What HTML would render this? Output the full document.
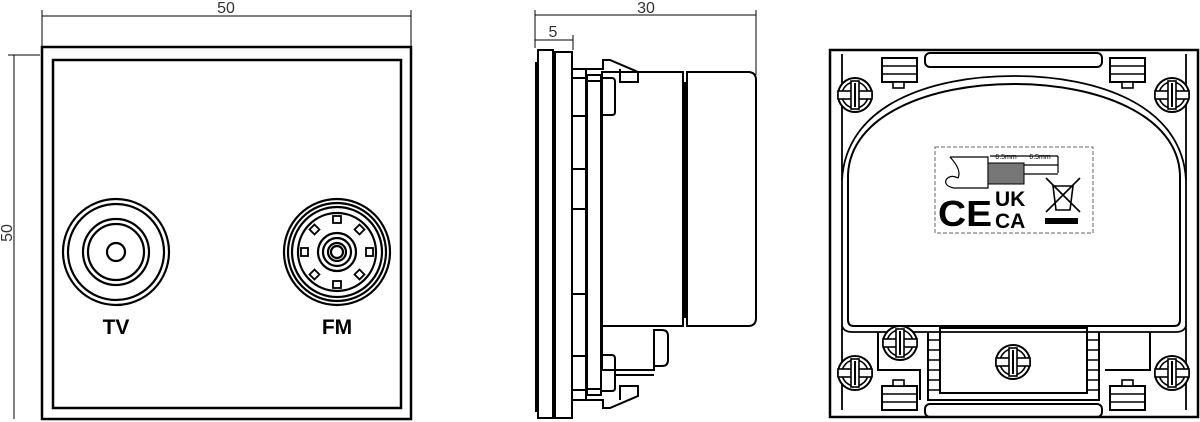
<!DOCTYPE html>
<html><head><meta charset="utf-8"><style>
html,body{margin:0;padding:0;background:#fff;width:1200px;height:422px;overflow:hidden}
svg{display:block}
text{font-family:"Liberation Sans",sans-serif;stroke:none}
</style></head><body>
<svg width="1200" height="422" viewBox="0 0 1200 422" xmlns="http://www.w3.org/2000/svg">
<defs>
<g id="scr">
<circle r="17" fill="#fff" stroke="#000" stroke-width="2"/>
<circle r="13" fill="none" stroke="#000" stroke-width="1.6"/>
<rect x="-17" y="-4" width="34" height="8" fill="#fff" stroke="#000" stroke-width="1.6"/>
<rect x="-4" y="-14" width="8" height="28" fill="#fff" stroke="#000" stroke-width="1.6"/>
<line x1="0" y1="-12" x2="0" y2="12" stroke="#000" stroke-width="2"/>
</g>
<g id="tab">
<rect x="0" y="0" width="35" height="24" fill="#fff" stroke="#000" stroke-width="2"/>
<line x1="0" y1="8" x2="35" y2="8" stroke="#000" stroke-width="1.6"/>
<line x1="0" y1="16" x2="35" y2="16" stroke="#000" stroke-width="1.6"/>
</g>
</defs>
<g fill="none" stroke="#000">
<!-- front view -->
<line x1="42" y1="16" x2="411" y2="16" stroke-width="1"/>
<line x1="42" y1="10" x2="42" y2="46" stroke-width="1"/>
<line x1="411" y1="10" x2="411" y2="46" stroke-width="1"/>
<line x1="14" y1="55" x2="14" y2="419" stroke-width="1"/>
<line x1="8" y1="55" x2="40" y2="55" stroke-width="1"/>
<rect x="42" y="47" width="369" height="372" stroke-width="2.5"/>
<rect x="53" y="60" width="348" height="348" stroke-width="2.5"/>
<g stroke-width="2.2">
<circle cx="116" cy="252" r="53"/><circle cx="116" cy="252" r="48"/>
<circle cx="116" cy="252" r="33"/><circle cx="116" cy="252" r="28"/>
<circle cx="116" cy="252" r="9"/>
<circle cx="337" cy="252" r="53"/><circle cx="337" cy="252" r="49"/>
<circle cx="337" cy="252" r="45"/><circle cx="337" cy="252" r="39"/>
<circle cx="337" cy="252" r="19"/><circle cx="337" cy="252" r="14"/>
<circle cx="337" cy="252" r="9"/><circle cx="337" cy="252" r="6"/>
</g>
<g stroke-width="1.8" fill="#fff">
<rect x="333" y="216" width="8" height="7"/><rect x="333" y="281" width="8" height="7"/>
<rect x="301" y="248" width="7" height="8"/><rect x="366" y="248" width="7" height="8"/>
<rect x="311" y="226" width="7" height="7" transform="rotate(45 314.5 229.5)"/>
<rect x="356" y="226" width="7" height="7" transform="rotate(45 359.5 229.5)"/>
<rect x="311" y="271" width="7" height="7" transform="rotate(45 314.5 274.5)"/>
<rect x="356" y="271" width="7" height="7" transform="rotate(45 359.5 274.5)"/>
</g>
<!-- side view -->
<line x1="535" y1="15" x2="756" y2="15" stroke-width="1"/>
<line x1="535" y1="10" x2="535" y2="48" stroke-width="1"/>
<line x1="756" y1="10" x2="756" y2="75" stroke-width="1"/>
<line x1="535" y1="40" x2="573" y2="40" stroke-width="1"/>
<line x1="573" y1="35" x2="573" y2="50" stroke-width="1"/>
<g stroke-width="2">
<line x1="536" y1="62" x2="536" y2="412"/>
<rect x="538" y="50" width="15" height="368"/>
<rect x="555" y="52" width="17" height="366"/>
<rect x="572" y="69" width="14" height="331"/>
<line x1="572" y1="78" x2="586" y2="78"/>
<line x1="572" y1="116" x2="586" y2="116"/>
<line x1="572" y1="169" x2="586" y2="169"/>
<line x1="572" y1="209" x2="586" y2="209"/>
<line x1="572" y1="294" x2="586" y2="294"/>
<line x1="572" y1="356" x2="586" y2="356"/>
<line x1="572" y1="390" x2="586" y2="390"/>
<rect x="587" y="75" width="14" height="320"/>
<line x1="587" y1="81" x2="601" y2="81"/><line x1="587" y1="389" x2="601" y2="389"/>
<rect x="602" y="72" width="81" height="254"/>
<path d="M687 72 H748 Q756 72 756 80 V318 Q756 326 748 326 H687 Z"/>
<line x1="684" y1="82" x2="684" y2="318"/><line x1="686" y1="82" x2="686" y2="318"/>
<path d="M572 69 H603 V60 H610 L638 72 V82 H620 V69"/>
<path d="M601 78 H612 Q615 78 615 82 V112 Q615 115 612 115 H601"/>
<path d="M572 400 H603 V408 H610 L638 396 V386 H620 V400"/>
<path d="M601 355 H612 Q615 355 615 359 V388 Q615 391 612 391 H601"/>
<path d="M602 326 V370 H654 V330 H662 Q668 330 668 336 V360 Q668 366 662 366 H654"/>
<line x1="615" y1="375" x2="654" y2="375"/>
</g>
<!-- rear view -->
<rect x="830" y="50" width="368" height="367" stroke-width="2.5"/>
<path d="M842 54 V410 M1186 54 V410" stroke-width="1.8"/>
<path d="M848 320 V175 C850 115 930 84 1014 84 C1098 84 1178 115 1180 175 V320 Q1180 326 1174 326 H854 Q848 326 848 320 Z" stroke-width="2"/>
<path d="M842 180 C846 105 930 76 1014 76 C1098 76 1182 105 1186 180" stroke-width="1.8"/>
<path d="M842 326 Q844 332 852 332 H1176 Q1184 332 1186 326" stroke-width="1.8"/>
<rect x="925" y="53" width="177" height="14" rx="5" stroke-width="2"/>
<rect x="925" y="404" width="177" height="13" rx="5" stroke-width="2"/>
<rect x="940" y="328" width="147" height="65" stroke-width="2"/>
<path d="M928 332 V400 H1099 V332" stroke-width="2"/>
<path d="M878 332 V370 H920 V400" stroke-width="2"/>
<path d="M1150 332 V370 H1105" stroke-width="2"/>
<g stroke-width="1.6">
<path d="M928 340 H940 M928 350 H940 M928 360 H940 M928 370 H940 M928 380 H940 M928 390 H940"/>
<path d="M1087 340 H1099 M1087 350 H1099 M1087 360 H1099 M1087 370 H1099 M1087 380 H1099 M1087 390 H1099"/>
</g>
<rect x="935" y="147" width="158" height="86" stroke-width="1" stroke-dasharray="4,2" stroke="#666"/>
</g>
<use href="#tab" x="882" y="58"/><rect x="893" y="82" width="11" height="6" fill="#fff" stroke="#000" stroke-width="1.6"/>
<use href="#tab" x="1110" y="58"/><rect x="1122" y="82" width="11" height="6" fill="#fff" stroke="#000" stroke-width="1.6"/>
<use href="#tab" x="882" y="386"/><rect x="893" y="380" width="11" height="6" fill="#fff" stroke="#000" stroke-width="1.6"/>
<use href="#tab" x="1110" y="386"/><rect x="1122" y="380" width="11" height="6" fill="#fff" stroke="#000" stroke-width="1.6"/>
<use href="#scr" x="855" y="95"/><use href="#scr" x="1172" y="95"/>
<use href="#scr" x="855" y="373"/><use href="#scr" x="1172" y="373"/>
<use href="#scr" x="900" y="343"/><use href="#scr" x="1013" y="362"/>
<!-- label -->
<g stroke="#000" fill="none" stroke-width="1.2">
<path d="M950 157 H988 V188 H954 Q944 186 946 180 Q950 174 958 178 Q962 170 950 157"/>
<line x1="990" y1="156" x2="1058" y2="156"/><line x1="1058" y1="156" x2="1058" y2="173"/>
<line x1="1024" y1="165" x2="1058" y2="165"/><line x1="1024" y1="174" x2="1058" y2="174"/>
<path d="M1046 178 L1080 212 M1080 178 L1046 212 M1053 186 H1073 L1070 210 H1056 Z" stroke-width="1.6"/>
</g>
<rect x="988" y="163" width="36" height="21" fill="#777" stroke="#000"/>
<rect x="1045" y="218" width="33" height="6" fill="#000"/>
<g fill="#000">
<text x="1006" y="159" font-size="7" text-anchor="middle">6.5mm</text>
<text x="1040" y="159" font-size="7" text-anchor="middle">6.5mm</text>
<text x="938" y="226" font-size="36" font-weight="bold" textLength="54" lengthAdjust="spacingAndGlyphs">CE</text>
<text x="995" y="206" font-size="21" font-weight="bold">UK</text>
<text x="995" y="228" font-size="21" font-weight="bold">CA</text>
<text x="116" y="334" font-size="21" font-weight="bold" text-anchor="middle">TV</text>
<text x="337" y="334" font-size="21" font-weight="bold" text-anchor="middle">FM</text>
</g>
<g fill="#333">
<text x="226" y="13" font-size="16" text-anchor="middle">50</text>
<text x="12" y="233" font-size="16" text-anchor="middle" transform="rotate(-90 12 233)">50</text>
<text x="646" y="13" font-size="16" text-anchor="middle">30</text>
<text x="553" y="37" font-size="16" text-anchor="middle">5</text>
</g>
</svg>
</body></html>
